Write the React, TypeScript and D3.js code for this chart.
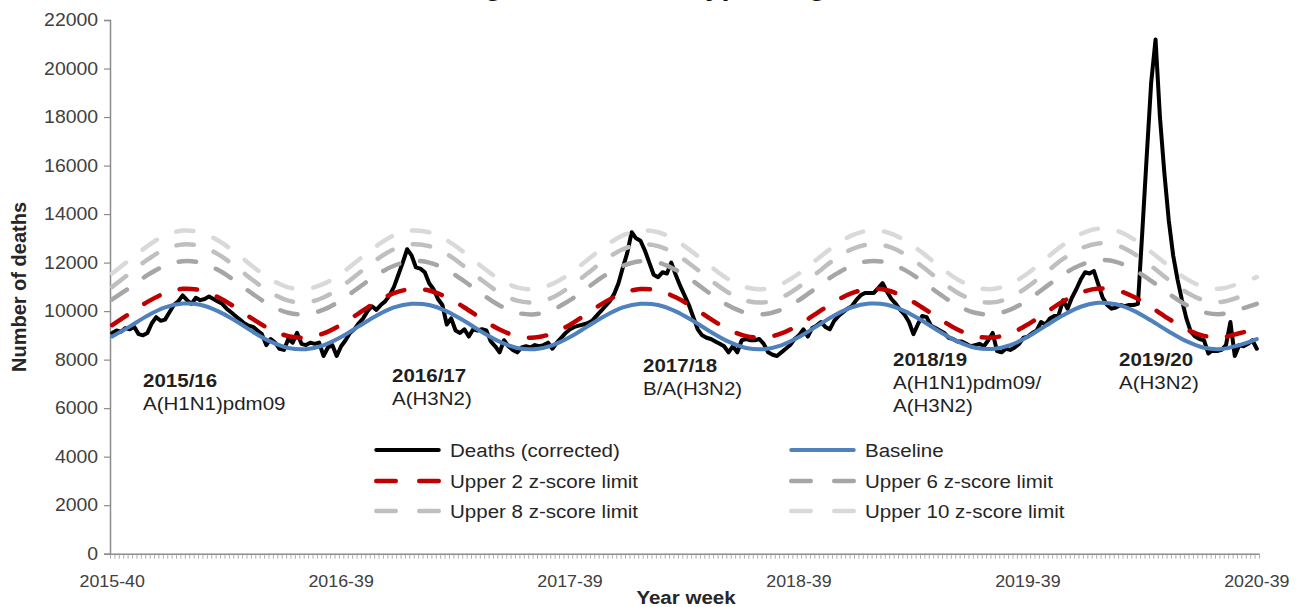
import React, { useEffect, useRef } from 'react';
import * as d3 from 'd3';

// weekly deaths, 2015-40 .. 2020-39 (261 weeks)
const deaths = [
  // 2015/16
  9100, 9200, 9150, 9300, 9250, 9350, 9050, 9000, 9100, 9500,
  9750, 9600, 9650, 9950, 10250, 10400, 10650, 10450, 10300, 10550,
  10450, 10500, 10600, 10500, 10400, 10300, 10100, 9950, 9800, 9650,
  9500, 9400, 9350, 9200, 9050, 8600, 8850, 8700, 8450, 8400,
  8850, 8700, 9100, 8650, 8600, 8700, 8650, 8700, 8150, 8500,
  8600, 8150,
  // 2016/17
  8550, 8800, 9100, 9250, 9500, 9700, 10000, 10200, 10050, 10250,
  10400, 10650, 11000, 11500, 12000, 12550, 12300, 11800, 11750, 11600,
  11150, 10900, 10500, 10250, 9450, 9700, 9200, 9100, 9250, 8950,
  9250, 9200, 9250, 9200, 8750, 8550, 8300, 8800, 8550, 8400,
  8300, 8500, 8550, 8500, 8600, 8550, 8600, 8700, 8450, 8700,
  8900, 9100,
  // 2017/18
  9250, 9350, 9400, 9450, 9500, 9600, 9800, 10000, 10200, 10400,
  10700, 11150, 11800, 12400, 13250, 13000, 12900, 12500, 12000, 11500,
  11400, 11600, 11550, 12000, 11500, 11050, 10650, 10250, 9750, 9250,
  9000, 8900, 8850, 8750, 8650, 8550, 8300, 8550, 8300, 8800,
  8850, 8800, 8800, 8850, 8650, 8300, 8200, 8150, 8300, 8450,
  8600, 8850,
  // 2018/19
  9000, 9250, 8950, 9300, 9400, 9550, 9350, 9250, 9600, 9800,
  9950, 10100, 10200, 10450, 10650, 10750, 10750, 10750, 10950, 11150,
  10800, 10500, 10300, 10050, 9850, 9550, 9050, 9450, 9800, 9750,
  9400, 9300, 9200, 9100, 8900, 8850, 8750, 8750, 8650, 8550,
  8600, 8650, 8550, 8800, 9100, 8350, 8300, 8450, 8400, 8500,
  8650, 8900,
  // 2019/20
  8950, 9100, 9200, 9550, 9450, 9700, 9800, 9850, 10450, 10100,
  10550, 10900, 11300, 11600, 11550, 11650, 11100, 10550, 10250, 10100,
  10150, 10250, 10200, 10250, 10250, 10300, 13300, 16400, 19400, 21200,
  18000, 15700, 13750, 12300, 11300, 10450, 9700, 9150, 8950, 8850,
  8800, 8250, 8400, 8350, 8400, 8600, 9550, 8150, 8600, 8550,
  8650, 8800, 8450,
];

// smooth lines, read every 4 weeks (week 0, 4, 8 ... 260)
const limitStep = 4;
const baseline = [
  8950, 9370, 9810, 10150, 10310, 10260, 10000, 9600, 9140, 8740, 8480, 8430, 8590,
  8930, 9370, 9810, 10150, 10300, 10250, 9990, 9590, 9140, 8740, 8480, 8430, 8590,
  8930, 9370, 9810, 10150, 10300, 10250, 9990, 9590, 9140, 8740, 8480, 8430, 8590,
  8930, 9370, 9820, 10160, 10310, 10260, 10000, 9600, 9150, 8750, 8490, 8440, 8600,
  8940, 9390, 9830, 10180, 10340, 10280, 10020, 9610, 9160, 8760, 8490, 8440, 8600,
  8850,
];
const upper2 = [
  9420, 9910, 10380, 10740, 10920, 10860, 10580, 10150, 9670, 9240, 8970, 8910, 9080,
  9440, 9910, 10380, 10740, 10910, 10850, 10570, 10150, 9670, 9240, 8970, 8910, 9080,
  9440, 9910, 10380, 10740, 10910, 10850, 10570, 10150, 9670, 9240, 8970, 8910, 9080,
  9440, 9910, 10380, 10740, 10920, 10860, 10580, 10150, 9670, 9240, 8970, 8910, 9080,
  9450, 9930, 10400, 10760, 10930, 10870, 10590, 10160, 9680, 9250, 8980, 8920, 9090,
  9250,
];
const upper6 = [
  10480, 10970, 11480, 11870, 12060, 12000, 11700, 11230, 10700, 10230, 9930, 9870, 10060,
  10450, 10970, 11480, 11870, 12060, 12000, 11700, 11230, 10700, 10230, 9930, 9870, 10060,
  10450, 10970, 11480, 11870, 12060, 12000, 11700, 11230, 10700, 10230, 9930, 9870, 10060,
  10450, 10970, 11480, 11870, 12060, 12000, 11700, 11230, 10700, 10230, 9930, 9870, 10060,
  10460, 10990, 11510, 11900, 12100, 12030, 11720, 11250, 10720, 10250, 9950, 9880, 10070,
  10300,
];
const upper8 = [
  11000, 11560, 12120, 12550, 12750, 12680, 12350, 11840, 11270, 10760, 10430, 10360, 10560,
  11000, 11560, 12120, 12550, 12750, 12680, 12350, 11840, 11270, 10760, 10430, 10360, 10560,
  11000, 11560, 12120, 12550, 12750, 12680, 12350, 11840, 11270, 10760, 10430, 10360, 10560,
  11000, 11560, 12120, 12550, 12750, 12680, 12350, 11840, 11270, 10760, 10430, 10360, 10560,
  11010, 11580, 12150, 12580, 12790, 12720, 12380, 11860, 11290, 10780, 10450, 10380, 10580,
  10850,
];
const upper10 = [
  11550, 12120, 12680, 13120, 13320, 13250, 12920, 12410, 11830, 11310, 10980, 10910, 11120,
  11550, 12120, 12680, 13120, 13320, 13250, 12920, 12410, 11830, 11310, 10980, 10910, 11120,
  11550, 12120, 12680, 13120, 13320, 13250, 12920, 12410, 11830, 11310, 10980, 10910, 11120,
  11550, 12120, 12680, 13120, 13320, 13250, 12920, 12410, 11830, 11310, 10980, 10910, 11120,
  11560, 12150, 12730, 13180, 13400, 13320, 12970, 12440, 11860, 11330, 11000, 10930, 11140,
  11400,
];

const xTickWeeks = [0, 52, 104, 156, 208, 260];
const xTickLabels = ['2015-40', '2016-39', '2017-39', '2018-39', '2019-39', '2020-39'];
const yTicks = [0, 2000, 4000, 6000, 8000, 10000, 12000, 14000, 16000, 18000, 20000, 22000];

const seasons = ['2015/16', '2016/17', '2017/18', '2018/19', '2019/20'];
const subtypes = [
  ['A(H1N1)pdm09'],
  ['A(H3N2)'],
  ['B/A(H3N2)'],
  ['A(H1N1)pdm09/', 'A(H3N2)'],
  ['A(H3N2)'],
];

const seriesNames = [
  'Deaths (corrected)', 'Baseline', 'Upper 2 z-score limit',
  'Upper 6 z-score limit', 'Upper 8 z-score limit', 'Upper 10 z-score limit',
];

const FONT = '"Liberation Sans", Arial, sans-serif';
const SX = 1.08; // the source text is slightly wide

const App = () => {
  const ref = useRef<SVGSVGElement>(null);

  useEffect(() => {
    const svg = d3.select(ref.current);
    svg.selectAll('*').remove();

    const nWeeks = deaths.length;
    const x = d3.scaleLinear().domain([-0.5, nWeeks - 0.5]).range([110, 1259]);
    const y = d3.scaleLinear().domain([0, 22000]).range([553.7, 20]);

    const label = (tx: number, ty: number, text: string, size: number, opts: any = {}) =>
      svg.append('text')
        .attr('transform', `translate(${tx},${ty}) scale(${SX},1)`)
        .attr('text-anchor', opts.anchor || 'start')
        .attr('font-size', size)
        .attr('font-weight', opts.bold ? 'bold' : null)
        .attr('fill', opts.fill || '#262626')
        .text(text);

    // title, mostly cut off by the top of the picture
    svg.append('text')
      .attr('x', 1155)
      .attr('y', -5)
      .attr('text-anchor', 'end')
      .attr('font-size', 29)
      .attr('font-weight', 'bold')
      .attr('fill', '#111')
      .text('Excess deaths and the dominant circulating influenza subtype, England, 2015/16 to 2019/20');

    // axes
    const yAxis = svg.append('g')
      .attr('transform', 'translate(110,0)')
      .call(d3.axisLeft(y).tickValues(yTicks).tickSize(6).tickPadding(5).tickFormat(d3.format('d')));
    yAxis.select('.domain').attr('stroke', '#8c8c8c').attr('stroke-width', 1.5);
    yAxis.selectAll('.tick line').attr('stroke', '#8c8c8c').attr('stroke-width', 1.2);
    yAxis.selectAll('.tick text')
      .attr('font-size', 18)
      .attr('font-family', FONT)
      .attr('fill', '#404040')
      .attr('transform', `scale(${SX},1)`);

    const xAxis = svg.append('g')
      .attr('transform', `translate(0,${y(0)})`)
      .call(d3.axisBottom(x).tickValues(d3.range(-0.5, nWeeks)).tickSize(5).tickSizeOuter(0).tickFormat(() => ''));
    xAxis.select('.domain').attr('stroke', '#8c8c8c').attr('stroke-width', 1.5);
    xAxis.selectAll('.tick line').attr('stroke', '#9a9a9a').attr('stroke-width', 0.8);

    xTickWeeks.forEach((w, i) => {
      label(x(w), 587, xTickLabels[i], 16.5, { anchor: 'middle', fill: '#404040' });
    });

    label(686, 604, 'Year week', 19, { anchor: 'middle', bold: true });

    svg.append('text')
      .attr('transform', 'translate(26,287) rotate(-90)')
      .attr('text-anchor', 'middle')
      .attr('font-size', 20)
      .attr('font-weight', 'bold')
      .attr('fill', '#262626')
      .text('Number of deaths');

    // lines
    const weekly = d3.line<number>().x((d, i) => x(i)).y((d) => y(d));
    const smooth = d3.line<number>()
      .x((d, i) => x(i * limitStep))
      .y((d) => y(d))
      .curve(d3.curveCatmullRom.alpha(0.5));

    const styles = [
      { color: '#000000', dash: null, width: 4 },
      { color: '#4F81BD', dash: null, width: 4 },
      { color: '#C00000', dash: '17.5 21', width: 4.5 },
      { color: '#A6A6A6', dash: '17.5 21', width: 4.5 },
      { color: '#BFBFBF', dash: '17.5 21', width: 4.5 },
      { color: '#D9D9D9', dash: '17.5 21', width: 4.5 },
    ];
    const paths = [
      weekly(deaths), smooth(baseline), smooth(upper2),
      smooth(upper6), smooth(upper8), smooth(upper10),
    ];

    const plot = svg.append('g');
    paths.forEach((p, i) => {
      const s = styles[i];
      plot.append('path')
        .attr('d', p)
        .attr('fill', 'none')
        .attr('stroke', s.color)
        .attr('stroke-width', s.width)
        .attr('stroke-linejoin', 'round')
        .attr('stroke-linecap', 'round')
        .attr('stroke-dasharray', s.dash);
    });

    // season notes
    const noteX = [143, 392, 643, 893, 1119];
    const noteY = [387, 382, 372, 366, 366];
    seasons.forEach((s, i) => {
      label(noteX[i], noteY[i], s, 19, { bold: true, fill: '#1f1f1f' });
      subtypes[i].forEach((t, j) => {
        label(noteX[i], noteY[i] + 23 * (j + 1), t, 19, { fill: '#1f1f1f' });
      });
    });

    // legend
    const legX = [374, 789];
    const legY = [450, 481, 511];
    seriesNames.forEach((name, i) => {
      const lx = legX[i % 2];
      const ly = legY[Math.floor(i / 2)];
      const s = styles[i];
      svg.append('line')
        .attr('x1', lx + 2.25).attr('x2', lx + 64.75)
        .attr('y1', ly).attr('y2', ly)
        .attr('stroke', s.color)
        .attr('stroke-width', s.width)
        .attr('stroke-linecap', 'round')
        .attr('stroke-dasharray', s.dash ? '19.5 23.5' : null);
      label(lx + 76, ly + 7, name, 19);
    });
  }, []);

  return (
    <svg
      ref={ref}
      width={1312}
      height={607}
      style={{ position: 'absolute', left: 0, top: 0, background: '#fff', fontFamily: FONT }}
    />
  );
};

export default App;
